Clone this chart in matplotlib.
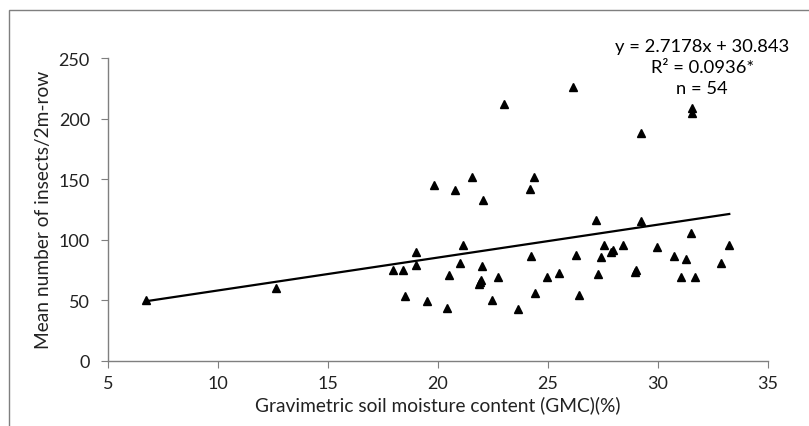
import numpy as np
import matplotlib
matplotlib.use("Agg")
import matplotlib.pyplot as plt
from matplotlib.patches import Rectangle

plt.rcParams['font.family'] = ['Lato', 'DejaVu Sans']

# GMC (%) vs mean number of insects per 2 m row
gmc = [6.73, 12.62, 26.14, 23.0, 19.8, 20.76, 21.56, 22.03, 24.36, 24.18,
       18.99, 21.14, 17.97, 18.39, 18.99, 21.0, 21.98, 20.51, 21.95, 21.86,
       22.71, 18.49, 19.52, 20.4, 22.45, 23.64, 24.23, 24.41, 24.94, 25.49,
       26.26, 26.4, 31.55, 31.55, 29.21, 27.2, 29.21, 31.51, 33.24, 27.53,
       27.4, 27.95, 27.88, 28.41, 29.94, 30.71, 31.26, 32.86, 27.27, 28.94,
       29.0, 31.05, 31.68, 21.9]
insects = [50.0, 59.8, 226.4, 211.9, 145.5, 141.0, 151.5, 133.0, 151.5, 142.2,
           90.0, 95.3, 74.7, 74.7, 78.8, 81.0, 78.3, 71.1, 66.4, 63.4,
           69.2, 53.2, 49.1, 43.3, 50.4, 42.5, 86.3, 56.2, 69.2, 72.5,
           87.6, 54.5, 208.6, 204.7, 188.4, 116.3, 115.7, 105.3, 95.9, 95.9,
           85.4, 91.2, 90.1, 95.3, 94.2, 86.3, 84.3, 81.0, 71.4, 73.0,
           75.0, 69.4, 69.4, 65.0]

slope = 2.7178
intercept = 30.843
x_ticks = [5, 10, 15, 20, 25, 30, 35]
y_ticks = [0, 50, 100, 150, 200, 250]

fig = plt.figure(figsize=(8.09, 4.27), dpi=100)
ax = fig.add_axes([0.1335, 0.1529, 0.8158, 0.7089])

ax.plot(gmc, insects, "^", color="black", ms=5.8, ls="none", clip_on=False)

xl = np.array([min(gmc), max(gmc)])
ax.plot(xl, slope * xl + intercept, color="black", lw=1.6)

ax.set_xlim(5, 35)
ax.set_ylim(0, 250)
ax.set_xticks(x_ticks)
ax.set_yticks(y_ticks)
for s in ["top", "right"]:
    ax.spines[s].set_visible(False)
for s in ["left", "bottom"]:
    ax.spines[s].set_color("#7f7f7f")
    ax.spines[s].set_linewidth(1.0)
ax.tick_params(direction="out", length=5, color="#7f7f7f", labelsize=13,
               labelcolor="#222222")
ax.tick_params(axis="y", pad=8)
ax.tick_params(axis="x", pad=5)

ax.set_xlabel("Gravimetric soil moisture content (GMC)(%)", fontsize=13.8, labelpad=3,
              color="#222222")
ax.set_ylabel("Mean number of insects/2m-row", fontsize=13.8, labelpad=5,
              color="#222222")

fig.text(0.868, 0.841, "y = 2.7178x + 30.843\nR² = 0.0936*\nn = 54",
         ha="center", va="center", fontsize=13.2, linespacing=1.4)

# outer chart frame
fig.patches.append(Rectangle((9 / 809, -0.1), 1.2, 1 - 11 / 427 + 0.1,
                             transform=fig.transFigure, fill=False,
                             edgecolor="#7f7f7f", lw=1.0))

fig.savefig("out.png", dpi=100)
